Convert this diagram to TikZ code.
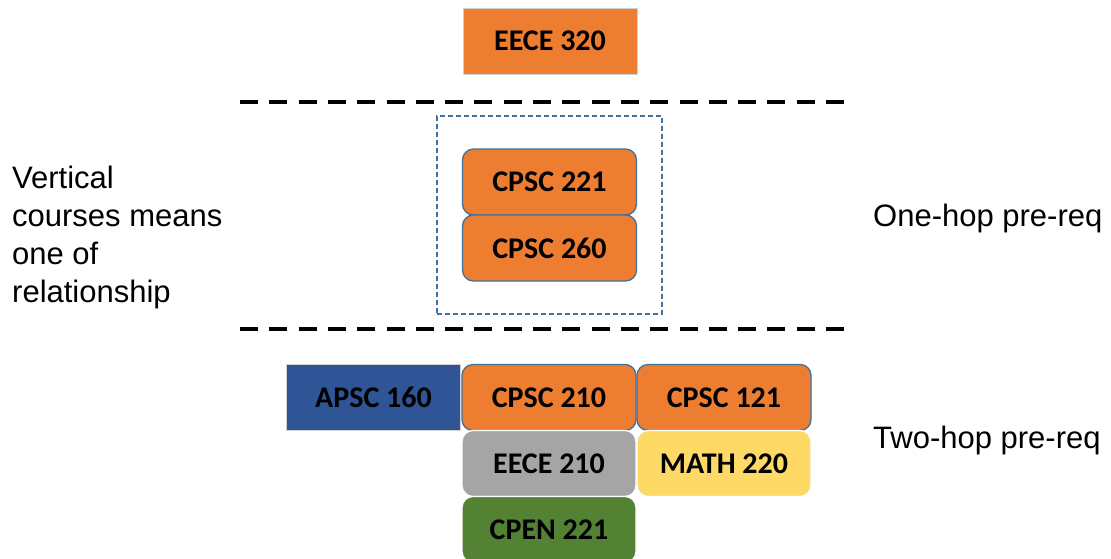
\documentclass[tikz,border=0pt]{standalone}
\usepackage{fontspec}
\setmainfont{Carlito}
\newfontfamily\arialfont{Liberation Sans}
\definecolor{orng}{HTML}{ED7D31}
\definecolor{bordblue}{HTML}{41719C}
\definecolor{apsc}{HTML}{2F5597}
\definecolor{grayc}{HTML}{A5A5A5}
\definecolor{yell}{HTML}{FFD966}
\definecolor{grn}{HTML}{548235}
\tikzset{
  course/.style={minimum width=174pt, minimum height=66pt, inner sep=0pt,
    font=\fontsize{30}{36}\selectfont\bfseries, text=black},
  sqbox/.style={course, draw=black!18, line width=1pt},
  rbox/.style={course, rounded corners=11pt, line width=1.3pt},
  sepline/.style={line width=4pt, dash pattern=on 18pt off 11.3pt},
  lbl/.style={font=\arialfont\fontsize{31}{38}\selectfont, inner sep=0pt, anchor=west, align=left},
}
\begin{document}
\begin{tikzpicture}[x=1pt,y=-1pt]
\useasboundingbox (0,0) rectangle (1111,558);
\fill[white] (0,0) rectangle (1111,558);
% top course
\node[sqbox, fill=orng] (eece320) at (550,41) {EECE 320};
% separators
\coordinate (s1a) at (240,102);
\coordinate (s1b) at (848,102);
\coordinate (s2a) at (240,329);
\coordinate (s2b) at (848,329);
\draw[sepline] (s1a) -- (s1b);
\draw[sepline] (s2a) -- (s2b);
% dashed group
\node[draw=bordblue, dash pattern=on 5pt off 3pt, line width=1.2pt, minimum width=225pt, minimum height=198pt, inner sep=0pt] (grp) at (549.5,215) {};
% one-hop
\node[rbox, fill=orng, draw=bordblue] (cpsc221) at (549.5,182) {CPSC 221};
\node[rbox, fill=orng, draw=bordblue] (cpsc260) at (549.5,248) {CPSC 260};
% two-hop
\node[sqbox, fill=apsc] (apsc160) at (373.5,397.5) {APSC 160};
\node[rbox, fill=orng, draw=bordblue] (cpsc210) at (549,397.5) {CPSC 210};
\node[rbox, fill=orng, draw=bordblue] (cpsc121) at (724,397.5) {CPSC 121};
\node[rbox, fill=grayc, draw=white] (eece210) at (549,463.5) {EECE 210};
\node[rbox, fill=yell, draw=white] (math220) at (724,463.5) {MATH 220};
\node[rbox, fill=grn, draw=white] (cpen221) at (549,529.5) {CPEN 221};
% labels
\node[lbl] (vert) at (12,237) {Vertical\\courses means\\one of\\relationship};
\node[lbl] (onehop) at (873,218) {One-hop pre-req};
\node[lbl] (twohop) at (873,440) {Two-hop pre-req};
\end{tikzpicture}
\end{document}
